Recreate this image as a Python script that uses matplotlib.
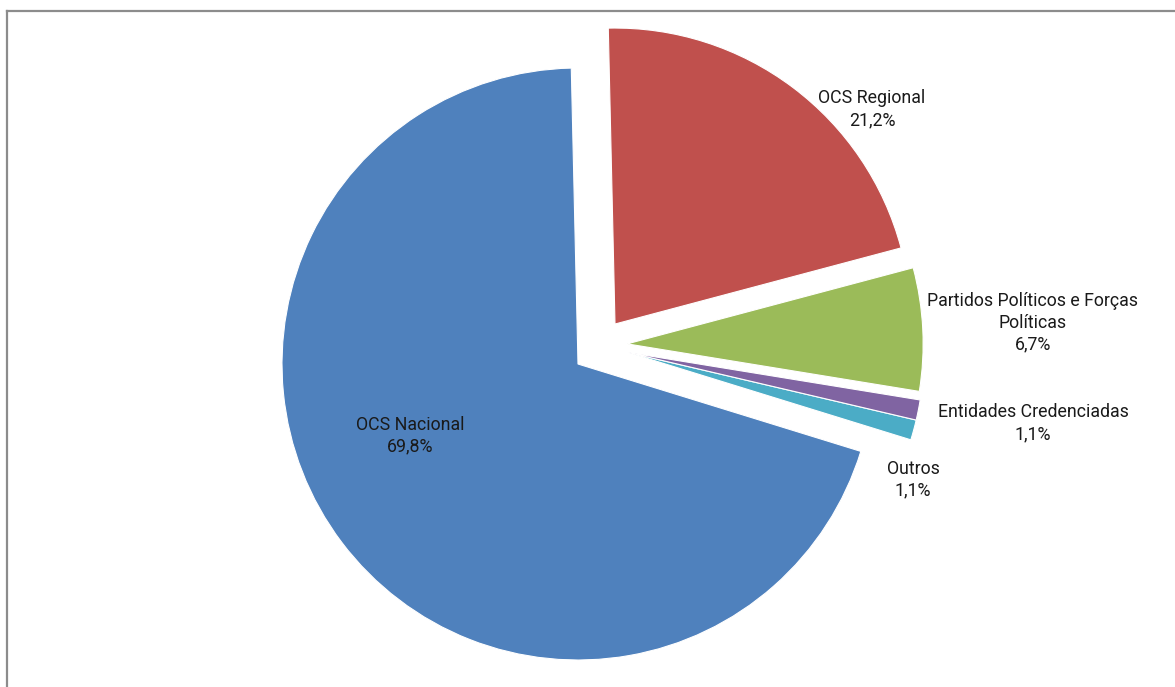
import matplotlib.pyplot as plt
from matplotlib.lines import Line2D

plt.rcParams['font.family'] = ['Roboto', 'DejaVu Sans']

# share of requests by origin
categories = ["OCS Nacional", "Outros", "Entidades Credenciadas",
              "Partidos Políticos e Forças\nPolíticas", "OCS Regional"]
values = [69.8, 1.1, 1.1, 6.7, 21.2]
colors = ["#4F81BD", "#4BACC6", "#8064A2", "#9BBB59", "#C0504D"]
# slice offsets (radius units), as exploded in the original
offsets = [(0, 0), (0.169, 0.039), (0.169, 0.039), (0.166, 0.068), (0.125, 0.135)]

# label positions (data units, pie radius = 1)
label_pos = [(-0.568, -0.243), (1.132, -0.392), (1.537, -0.20),
             (1.537, 0.139), (0.993, 0.861)]

W, H = 1175, 687
cx, cy, r = 578, 364, 296

fig = plt.figure(figsize=(W / 100, H / 100), dpi=100)
ax = fig.add_axes([0, 0, 1, 1])

wedges, _ = ax.pie(values, colors=colors, startangle=91.3,
                   counterclock=True, radius=1,
                   wedgeprops=dict(edgecolor="white", linewidth=0.8))
for w, off in zip(wedges, offsets):
    w.set_center(off)

for name, val, (x, y) in zip(categories, values, label_pos):
    txt = f"{name}\n{val:.1f}%".replace(".", ",")
    ax.text(x, y, txt, ha="center", va="center", fontsize=12.8,
            color="#1a1a1a", linespacing=1.25)

ax.set_aspect("auto")
ax.set_xlim(-cx / r, (W - cx) / r)
ax.set_ylim(-(H - cy) / r, cy / r)
ax.axis("off")

# grey frame (left and top edges visible)
fig.add_artist(Line2D([7 / W, 7 / W], [0, 1 - 10.5 / H], transform=fig.transFigure,
                      color="#8c8c8c", linewidth=1.6))
fig.add_artist(Line2D([7 / W, 1], [1 - 10.5 / H, 1 - 10.5 / H], transform=fig.transFigure,
                      color="#8c8c8c", linewidth=1.6))

fig.savefig("out.png", dpi=100, facecolor="white")
